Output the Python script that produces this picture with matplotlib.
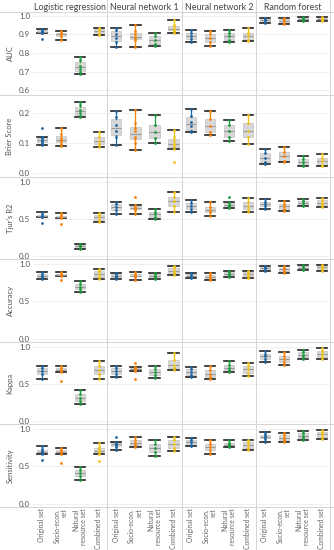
import matplotlib.pyplot as plt
from matplotlib.lines import Line2D
import numpy as np

plt.rcParams['font.family'] = ['Lato', 'DejaVu Sans']

models = ['Logistic regression', 'Neural network 1', 'Neural network 2', 'Random forest']
set_labels = ['Original set', 'Socio-econ.\nset', 'Natural\nresource set', 'Combined set']
set_colors = ['#1f65a0', '#f5820d', '#1f9a3f', '#f0c21a']
metric_names = ['AUC', 'Brier Score', "Tjur's R2", 'Accuracy', 'Kappa', 'Sensitivity']

# values per model -> per feature set (cross-validation folds)
auc = [
    [[0.875, 0.905, 0.91, 0.915, 0.92, 0.925, 0.93], [0.87, 0.89, 0.90, 0.91, 0.92],
     [0.69, 0.70, 0.715, 0.73, 0.76, 0.78], [0.895, 0.90, 0.92, 0.93, 0.935]],
    [[0.835, 0.86, 0.88, 0.90, 0.925, 0.935], [0.83, 0.87, 0.88, 0.885, 0.90, 0.92, 0.95],
     [0.84, 0.85, 0.87, 0.89, 0.91], [0.91, 0.92, 0.925, 0.93, 0.945, 0.95, 0.975]],
    [[0.86, 0.875, 0.89, 0.905, 0.925], [0.84, 0.86, 0.88, 0.90, 0.92],
     [0.86, 0.87, 0.89, 0.91, 0.925], [0.865, 0.87, 0.89, 0.905, 0.935]],
    [[0.96, 0.965, 0.975, 0.985, 0.99], [0.955, 0.96, 0.97, 0.98, 0.99],
     [0.97, 0.975, 0.985, 0.99, 0.995], [0.97, 0.975, 0.985, 0.99, 0.995]],
]
brier = [
    [[0.093, 0.10, 0.105, 0.11, 0.115, 0.119, 0.15], [0.09, 0.097, 0.105, 0.11, 0.115, 0.13, 0.151],
     [0.186, 0.19, 0.20, 0.21, 0.225, 0.238], [0.084, 0.095, 0.105, 0.12, 0.137]],
    [[0.091, 0.12, 0.14, 0.16, 0.185, 0.208], [0.075, 0.099, 0.115, 0.12, 0.14, 0.15, 0.167, 0.211],
     [0.10, 0.115, 0.135, 0.16, 0.194], [0.034, 0.079, 0.09, 0.095, 0.105, 0.12, 0.144]],
    [[0.137, 0.14, 0.155, 0.17, 0.19, 0.214], [0.126, 0.135, 0.155, 0.18, 0.208],
     [0.105, 0.12, 0.14, 0.16, 0.177], [0.095, 0.12, 0.14, 0.165, 0.194]],
    [[0.029, 0.035, 0.05, 0.065, 0.079], [0.036, 0.04, 0.055, 0.07, 0.086],
     [0.021, 0.025, 0.035, 0.045, 0.055], [0.021, 0.025, 0.04, 0.05, 0.062]],
]
tjur = [
    [[0.448, 0.52, 0.53, 0.54, 0.56, 0.59], [0.435, 0.51, 0.52, 0.525, 0.55, 0.575],
     [0.094, 0.11, 0.13, 0.15, 0.162], [0.46, 0.49, 0.52, 0.55, 0.58]],
    [[0.565, 0.62, 0.66, 0.70, 0.73], [0.565, 0.62, 0.635, 0.645, 0.665, 0.686, 0.79],
     [0.494, 0.52, 0.56, 0.60, 0.633], [0.60, 0.68, 0.74, 0.79, 0.857]],
    [[0.593, 0.64, 0.68, 0.72, 0.754], [0.535, 0.59, 0.62, 0.66, 0.723],
     [0.65, 0.67, 0.68, 0.69, 0.71, 0.73, 0.79], [0.593, 0.64, 0.68, 0.73, 0.785]],
    [[0.633, 0.67, 0.70, 0.73, 0.77], [0.606, 0.64, 0.67, 0.70, 0.74],
     [0.673, 0.69, 0.72, 0.745, 0.763], [0.664, 0.69, 0.72, 0.76, 0.785]],
]
accuracy = [
    [[0.804, 0.82, 0.84, 0.865, 0.889], [0.79, 0.84, 0.85, 0.855, 0.87, 0.898],
     [0.631, 0.66, 0.69, 0.73, 0.773], [0.80, 0.83, 0.86, 0.90, 0.933]],
    [[0.796, 0.82, 0.84, 0.86, 0.884], [0.79, 0.831, 0.84, 0.85, 0.87, 0.898],
     [0.796, 0.82, 0.84, 0.865, 0.884], [0.858, 0.88, 0.91, 0.94, 0.969]],
    [[0.809, 0.83, 0.845, 0.86, 0.876], [0.787, 0.80, 0.82, 0.85, 0.876],
     [0.831, 0.85, 0.87, 0.89, 0.907], [0.809, 0.84, 0.87, 0.89, 0.911]],
    [[0.902, 0.92, 0.94, 0.96, 0.973], [0.884, 0.91, 0.93, 0.95, 0.973],
     [0.924, 0.935, 0.95, 0.97, 0.987], [0.911, 0.93, 0.955, 0.975, 0.991]],
]
kappa = [
    [[0.573, 0.63, 0.67, 0.71, 0.739], [0.539, 0.66, 0.68, 0.69, 0.715, 0.735],
     [0.23, 0.27, 0.31, 0.36, 0.417], [0.573, 0.64, 0.69, 0.74, 0.81]],
    [[0.59, 0.63, 0.68, 0.72, 0.748], [0.57, 0.67, 0.68, 0.69, 0.70, 0.71, 0.726, 0.782],
     [0.586, 0.62, 0.66, 0.70, 0.744], [0.687, 0.72, 0.76, 0.82, 0.913]],
    [[0.59, 0.62, 0.66, 0.70, 0.722], [0.56, 0.60, 0.64, 0.69, 0.744],
     [0.657, 0.69, 0.72, 0.76, 0.81], [0.608, 0.65, 0.70, 0.745, 0.782]],
    [[0.791, 0.83, 0.87, 0.91, 0.948], [0.761, 0.80, 0.84, 0.88, 0.926],
     [0.83, 0.86, 0.89, 0.93, 0.961], [0.83, 0.86, 0.90, 0.94, 0.983]],
]
sensitivity = [
    [[0.581, 0.671, 0.69, 0.70, 0.73, 0.766], [0.54, 0.671, 0.69, 0.70, 0.725, 0.748],
     [0.32, 0.37, 0.41, 0.45, 0.486], [0.572, 0.671, 0.69, 0.70, 0.73, 0.761, 0.806]],
    [[0.716, 0.76, 0.79, 0.80, 0.81, 0.828, 0.887], [0.761, 0.78, 0.81, 0.85, 0.887],
     [0.644, 0.69, 0.74, 0.80, 0.856], [0.703, 0.75, 0.80, 0.85, 0.891]],
    [[0.77, 0.79, 0.82, 0.85, 0.874], [0.671, 0.72, 0.76, 0.80, 0.847],
     [0.757, 0.77, 0.78, 0.79, 0.80, 0.815, 0.856], [0.716, 0.75, 0.79, 0.82, 0.856]],
    [[0.828, 0.869, 0.89, 0.90, 0.93, 0.96], [0.82, 0.85, 0.88, 0.92, 0.95],
     [0.847, 0.88, 0.91, 0.94, 0.969], [0.865, 0.89, 0.93, 0.96, 0.99]],
]
all_metrics = [auc, brier, tjur, accuracy, kappa, sensitivity]

y_ticks = [[0.6, 0.7, 0.8, 0.9, 1.0], [0.0, 0.1, 0.2], [0.0, 0.5, 1.0],
           [0.0, 0.5, 1.0], [0.0, 0.5, 1.0], [0.0, 0.5, 1.0]]
y_lims = [(0.575, 1.02), (-0.015, 0.26), (-0.04, 1.065),
          (-0.04, 1.065), (-0.04, 1.065), (-0.04, 1.065)]

# layout in pixels
W, H = 334, 550
col_edges = [33, 107, 182, 256, 330]
row_edges = [12, 95, 177, 259, 342, 424, 507]
grey = '#d4d4d4'
text_col = '#555555'

fig = plt.figure(figsize=(W / 100, H / 100), dpi=100)

for r, data in enumerate(all_metrics):
    y0, y1 = row_edges[r], row_edges[r + 1]
    for c in range(4):
        x0, x1 = col_edges[c], col_edges[c + 1]
        ax = fig.add_axes([x0 / W, 1 - y1 / H, (x1 - x0) / W, (y1 - y0) / H])
        groups = data[c]
        bp = ax.boxplot(groups, positions=range(4), widths=0.55, patch_artist=True,
                        showfliers=False, whis=1.5, capwidths=0.55,
                        boxprops=dict(facecolor='#cccccc', edgecolor='#b5b5b5',
                                      linewidth=0.5, alpha=0.75),
                        medianprops=dict(color='#9a9a9a', linewidth=0.8),
                        capprops=dict(color='#222222', linewidth=1.2),
                        whiskerprops=dict(linewidth=0.9))
        for i in range(4):
            bp['whiskers'][2 * i].set_color(set_colors[i])
            bp['whiskers'][2 * i + 1].set_color(set_colors[i])
            ax.scatter(np.full(len(groups[i]), i), groups[i], s=4,
                       color=set_colors[i], linewidths=0, zorder=4)
        ax.set_xlim(-0.47, 3.43)
        ax.set_ylim(*y_lims[r])
        ax.set_yticks(y_ticks[r])
        ax.yaxis.grid(True, color='#eeeeee', linewidth=0.6)
        ax.set_axisbelow(True)
        for s in ax.spines.values():
            s.set_visible(False)
        ax.tick_params(length=0, labelsize=5.8, labelcolor=text_col, pad=2)
        if c == 0:
            ax.set_yticklabels(['%.1f' % t for t in y_ticks[r]])
        else:
            ax.set_yticklabels([])
        if r == len(all_metrics) - 1:
            ax.set_xticks(range(4))
            ax.set_xticklabels(set_labels, rotation=90, fontsize=4.9, color='#666666',
                               linespacing=1.1)
            for lab in ax.get_xticklabels():
                lab.set_multialignment('right')
            ax.tick_params(axis='x', pad=1)
        else:
            ax.set_xticks([])
    fig.text(10 / W, 1 - (y0 + y1) / 2 / H, metric_names[r], rotation=90,
             ha='center', va='center', fontsize=5.5, color=text_col)

for c, m in enumerate(models):
    fig.text((col_edges[c] + col_edges[c + 1]) / 2 / W, 1 - 7 / H, m,
             ha='center', va='center', fontsize=6.4, color='#444444')

# separators
for x in col_edges[1:]:
    fig.add_artist(Line2D([x / W, x / W], [0, 1], color=grey, linewidth=0.7))
for y in row_edges:
    fig.add_artist(Line2D([0, 1], [1 - y / H, 1 - y / H], color=grey, linewidth=0.7))

fig.savefig('out.png', dpi=100, facecolor='white')
